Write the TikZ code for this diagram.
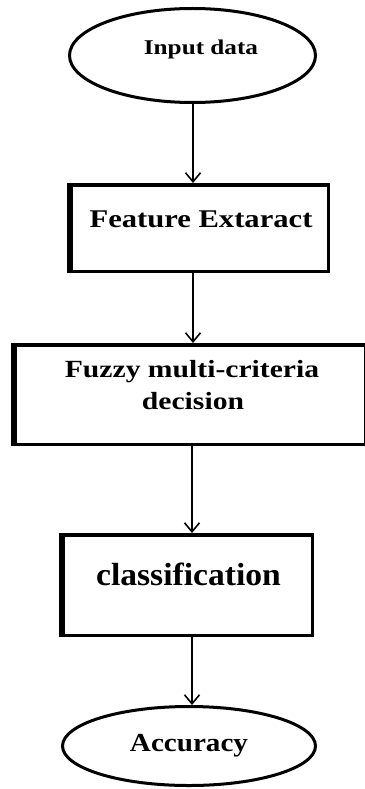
\documentclass[tikz,border=0pt]{standalone}
\usepackage{fontspec}
\setmainfont{Liberation Serif}
\newfontfamily\wideA[FakeStretch=1.2]{Liberation Serif}
\newfontfamily\wideB[FakeStretch=1.12]{Liberation Serif}
\newfontfamily\wideC[FakeStretch=1.05]{Liberation Serif}
\usetikzlibrary{shapes.geometric,arrows.meta}
\tikzset{
  oval/.style={ellipse, draw, line width=3pt, inner sep=0pt},
  stepbox/.style={rectangle, draw, line width=3.5pt, inner sep=0pt},
  thickleft/.style={line width=5pt},
  arr/.style={line width=1.6pt, -{Straight Barb[length=9pt,width=15pt,line width=1.6pt]}},
  lbl/.style={anchor=base, inner sep=0pt, text=black}
}
\begin{document}
\begin{tikzpicture}[x=1pt,y=-1pt]
\useasboundingbox (0,0) rectangle (364,789);
\fill[white] (0,0) rectangle (364,789);

% shapes
\node[oval, minimum width=246pt, minimum height=94pt] (e1) at (192.5,55.5) {};
\node[stepbox, minimum width=257.5pt, minimum height=86.5pt] (b1) at (199.5,228) {};
\node[stepbox, minimum width=351pt, minimum height=99.5pt] (b2) at (190.5,394.5) {};
\node[stepbox, minimum width=249.5pt, minimum height=100.5pt] (b3) at (187.5,585) {};
\node[oval, minimum width=253pt, minimum height=79pt] (e2) at (189,746) {};

% thicker left edges
\draw[thickleft] (b1.north west) -- (b1.south west);
\draw[thickleft] (b2.north west) -- (b2.south west);
\draw[thickleft] (b3.north west) -- (b3.south west);

% labels
\node[lbl, font=\wideA\bfseries\fontsize{21}{21}\selectfont] (t1) at (201,55) {Input data};
\node[lbl, font=\wideA\bfseries\fontsize{25.5}{25.5}\selectfont] (t2) at (201,227) {Feature Extaract};
\node[lbl, font=\wideA\bfseries\fontsize{24.7}{24.7}\selectfont] (t3a) at (192,377) {Fuzzy multi-criteria};
\node[lbl, font=\wideA\bfseries\fontsize{24.7}{24.7}\selectfont] (t3b) at (193,409) {decision};
\node[lbl, font=\wideC\bfseries\fontsize{32}{32}\selectfont] (t4) at (188.5,585) {classification};
\node[lbl, font=\wideB\bfseries\fontsize{26}{26}\selectfont] (t5) at (189,751) {Accuracy};

% connectors
\coordinate (ax1) at (193,0);
\coordinate (ax2) at (192,0);
\draw[arr] (e1.south -| ax1) -- (b1.north -| ax1);
\draw[arr] (b1.south -| ax1) -- (b2.north -| ax1);
\draw[arr] (b2.south -| ax2) -- (b3.north -| ax2);
\draw[arr] (b3.south -| ax2) -- (e2.north -| ax2);
\end{tikzpicture}
\end{document}
